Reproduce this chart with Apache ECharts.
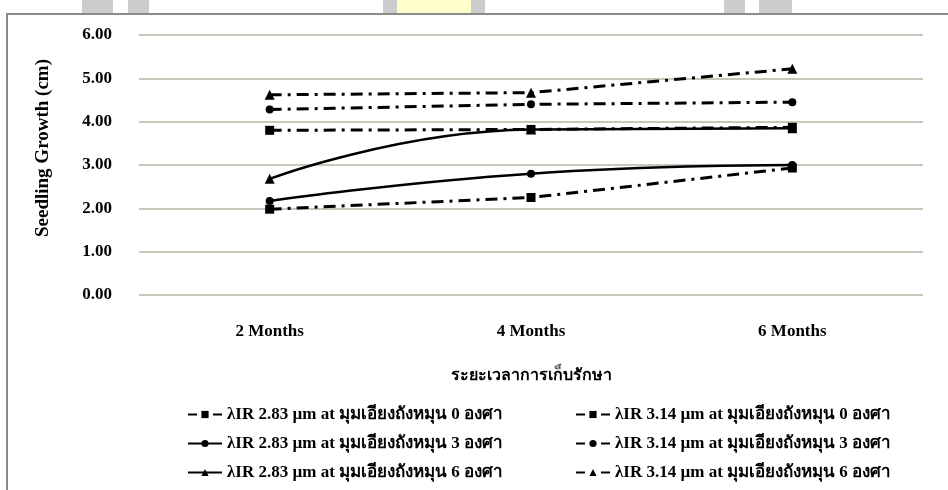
<!DOCTYPE html>
<html>
<head>
<meta charset="utf-8">
<script src="https://cdn.jsdelivr.net/npm/echarts@6/dist/echarts.min.js"></script>
<style>
  html, body { margin: 0; padding: 0; background: #fff; }
  #chart { width: 948px; height: 490px; }
</style>
</head>
<body>
<div id="chart"></div>
<script>
// storage period
var categories = ['2 Months', '4 Months', '6 Months'];
var yTicks = [0, 1, 2, 3, 4, 5, 6];

// seedling growth (cm)
var ir283Deg0 = [1.98, 2.25, 2.93];
var ir283Deg3 = [2.17, 2.80, 3.00];
var ir283Deg6 = [2.68, 3.82, 3.85];
var ir314Deg0 = [3.80, 3.82, 3.87];
var ir314Deg3 = [4.28, 4.40, 4.45];
var ir314Deg6 = [4.62, 4.67, 5.22];

var names = [
  'λIR 2.83 µm at มุมเอียงถังหมุน 0 องศา',
  'λIR 2.83 µm at มุมเอียงถังหมุน 3 องศา',
  'λIR 2.83 µm at มุมเอียงถังหมุน 6 องศา',
  'λIR 3.14 µm at มุมเอียงถังหมุน 0 องศา',
  'λIR 3.14 µm at มุมเอียงถังหมุน 3 องศา',
  'λIR 3.14 µm at มุมเอียงถังหมุน 6 องศา'
];

var font = '"Liberation Serif", "Times New Roman", serif';
var dashDot = [12, 6, 3, 6];

function mkSeries(name, data, symbol, size, solid) {
  return {
    name: name,
    type: 'line',
    data: data,
    smooth: solid ? 0.5 : false,
    symbol: symbol,
    symbolSize: size,
    itemStyle: { color: '#000' },
    lineStyle: { color: '#000', width: solid ? 2.5 : 3, type: solid ? 'solid' : dashDot },
    emphasis: { disabled: true }
  };
}

// legend entry: dashed ones drawn as "– ■ –"
function legItem(name, solid) {
  return solid ? { name: name } : { name: name, lineStyle: { type: [9, 16] } };
}

var legendText = { fontFamily: font, fontSize: 17, fontWeight: 'bold', color: '#000' };

var chart = echarts.init(document.getElementById('chart'));
chart.setOption({
  animation: false,
  backgroundColor: '#fff',
  textStyle: { fontFamily: font },
  grid: { left: 139, right: 25, top: 35, bottom: 195 },
  legend: [
    {
      orient: 'vertical',
      left: 182,
      top: 401,
      itemWidth: 34,
      itemHeight: 9,
      itemGap: 12,
      data: [legItem(names[0], false), legItem(names[1], true), legItem(names[2], true)],
      textStyle: legendText
    },
    {
      orient: 'vertical',
      left: 570,
      top: 401,
      itemWidth: 34,
      itemHeight: 9,
      itemGap: 12,
      data: [legItem(names[3], false), legItem(names[4], false), legItem(names[5], false)],
      textStyle: legendText
    }
  ],
  xAxis: {
    type: 'category',
    data: categories,
    boundaryGap: true,
    name: 'ระยะเวลาการเก็บรักษา',
    nameLocation: 'middle',
    nameGap: 73,
    nameTextStyle: { fontFamily: font, fontSize: 16, fontWeight: 'bold', color: '#000' },
    axisLine: { show: false },
    axisTick: { show: false },
    axisLabel: { margin: 28, fontSize: 17, fontWeight: 'bold', color: '#000' }
  },
  yAxis: {
    type: 'value',
    min: yTicks[0],
    max: yTicks[yTicks.length - 1],
    interval: 1,
    axisLine: { show: false },
    axisTick: { show: false },
    axisLabel: {
      margin: 27, fontSize: 17, fontWeight: 'bold', color: '#000',
      formatter: function (v) { return v.toFixed(2); }
    },
    splitLine: { lineStyle: { color: '#b4b4a6', width: 1.5 } }
  },
  graphic: [
    { type: 'rect', shape: { x: 82, y: 0, width: 31, height: 13 }, style: { fill: '#cccccc' } },
    { type: 'rect', shape: { x: 128, y: 0, width: 21, height: 13 }, style: { fill: '#cccccc' } },
    { type: 'rect', shape: { x: 383, y: 0, width: 14, height: 13 }, style: { fill: '#cccccc' } },
    { type: 'rect', shape: { x: 397, y: 0, width: 74, height: 13 }, style: { fill: '#ffffcc' } },
    { type: 'rect', shape: { x: 471, y: 0, width: 14, height: 13 }, style: { fill: '#cccccc' } },
    { type: 'rect', shape: { x: 724, y: 0, width: 21, height: 13 }, style: { fill: '#cccccc' } },
    { type: 'rect', shape: { x: 759, y: 0, width: 33, height: 13 }, style: { fill: '#cccccc' } },
    { type: 'rect', shape: { x: 7, y: 14, width: 960, height: 500 }, style: { fill: 'none', stroke: '#8a8a8a', lineWidth: 2 } },
    {
      type: 'text',
      x: 43, y: 148,
      rotation: Math.PI / 2,
      style: {
        text: 'Seedling Growth (cm)',
        fontFamily: font, fontSize: 19, fontWeight: 'bold', fill: '#000',
        align: 'center', verticalAlign: 'middle'
      }
    }
  ],
  series: [
    mkSeries(names[0], ir283Deg0, 'rect', 9, false),
    mkSeries(names[1], ir283Deg3, 'circle', 8, true),
    mkSeries(names[2], ir283Deg6, 'triangle', 10, true),
    mkSeries(names[3], ir314Deg0, 'rect', 9, false),
    mkSeries(names[4], ir314Deg3, 'circle', 8, false),
    mkSeries(names[5], ir314Deg6, 'triangle', 10, false)
  ]
});
</script>
</body>
</html>
